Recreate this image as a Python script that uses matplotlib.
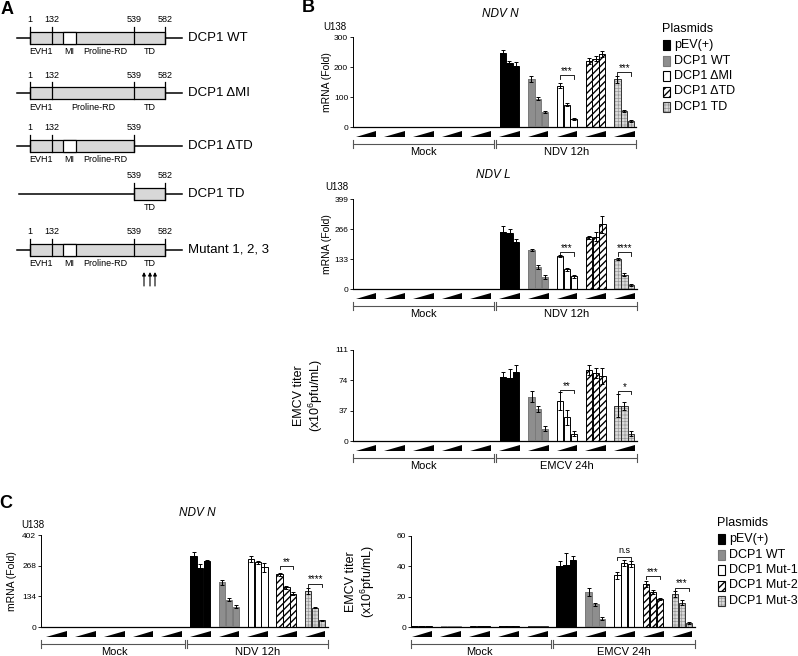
import numpy as np
import matplotlib.pyplot as plt
import matplotlib.patches as patches
import matplotlib.lines as mlines
import matplotlib.transforms as transforms

plt.rcParams['font.family'] = ['Liberation Sans', 'DejaVu Sans']
plt.rcParams['mathtext.default'] = 'regular'

W_PX, H_PX = 798, 656

# ---------------- data ----------------
b_plasmids = ['pEV(+)', 'DCP1 WT', 'DCP1 \u0394MI', 'DCP1 \u0394TD', 'DCP1 TD']
c_plasmids = ['pEV(+)', 'DCP1 WT', 'DCP1 Mut-1', 'DCP1 Mut-2', 'DCP1 Mut-3']

# rows = plasmid, cols = increasing dose
b_ndvn_mock = [[1.5, 1.5, 1.5], [1.5, 1.5, 1.5], [1.5, 1.5, 1.5], [1.5, 1.5, 1.5], [1.5, 1.5, 1.5]]
b_ndvn = [[248, 214, 204], [159, 94, 49], [138, 75, 27], [221, 227, 243], [159, 53, 20]]
b_ndvn_err = [[8, 6, 12], [10, 5, 3], [8, 6, 2], [10, 8, 10], [12, 3, 2]]
b_ndvn_sig = [(2, '***', 172), (4, '***', 182)]

b_ndvl_mock = [[2, 2, 2], [2, 2, 2], [2, 2, 2], [2, 2, 2], [2, 2, 2]]
b_ndvl = [[251, 247, 210], [173, 97, 54], [145, 88, 56], [229, 232, 286], [133, 64, 18]]
b_ndvl_err = [[28, 20, 12], [6, 10, 8], [4, 6, 6], [8, 20, 37], [4, 8, 3]]
b_ndvl_sig = [(2, '***', 162), (4, '****', 162)]

b_emcv_mock = [[0.6, 0.6, 0.6], [0.6, 0.6, 0.6], [0.6, 0.6, 0.6], [0.6, 0.6, 0.6], [0.6, 0.6, 0.6]]
b_emcv = [[77.6, 76.4, 84], [54, 39, 15], [48.6, 29, 8.6], [87, 83, 79], [43, 43, 9]]
b_emcv_err = [[7, 11, 9], [7, 4, 3], [11, 9, 3], [6, 6, 10], [14, 5, 3]]
b_emcv_sig = [(2, '**', 62), (4, '*', 61)]

c_ndvn_mock = [[1.5, 1.5, 1.5], [1.5, 1.5, 1.5], [1.5, 1.5, 1.5], [1.5, 1.5, 1.5], [1.5, 1.5, 1.5]]
c_ndvn = [[310, 256, 289], [195, 120, 88], [297, 282, 260], [230, 173, 146], [158, 85, 29]]
c_ndvn_err = [[17, 19, 4], [10, 6, 7], [12, 8, 21], [8, 8, 6], [12, 3, 3]]
c_ndvn_sig = [(3, '**', 267), (4, '****', 190)]

c_emcv_mock = [[0.6, 0.6, 0.6], [0.6, 0.6, 0.6], [0.6, 0.6, 0.6], [0.6, 0.6, 0.6], [0.6, 0.6, 0.6]]
c_emcv = [[40.5, 40.7, 44], [23, 15, 5.5], [34, 42, 41.5], [28.5, 23, 18.5], [22, 16, 2.5]]
c_emcv_err = [[3, 8, 2.5], [2.5, 1, 0.8], [2.5, 2, 2], [2, 1.2, 0.8], [2, 1.5, 0.5]]
c_emcv_sig = [(2, 'n.s', 46), (3, '***', 33.5), (4, '***', 26)]

# panel A constructs
constructs = ['DCP1 WT', 'DCP1 \u0394MI', 'DCP1 \u0394TD', 'DCP1 TD', 'Mutant 1, 2, 3']
construct_marks = [[1, 132, 539, 582], [1, 132, 539, 582], [1, 132, 539], [539, 582], [1, 132, 539, 582]]
construct_domains = [['EVH1', 'MI', 'Proline-RD', 'TD'], ['EVH1', 'Proline-RD', 'TD'],
                     ['EVH1', 'MI', 'Proline-RD'], ['TD'], ['EVH1', 'MI', 'Proline-RD', 'TD']]

# ---------------- styles ----------------
styles = [
    dict(fc='black', ec='black', hatch=None, hc=None, hlw=1.0),
    dict(fc='#8e8e8e', ec='#7a7a7a', hatch=None, hc=None, hlw=1.0),
    dict(fc='white', ec='black', hatch=None, hc=None, hlw=1.0),
    dict(fc='white', ec='black', hatch='/////', hc='black', hlw=1.0),
    dict(fc='#dadada', ec='#333333', hatch='+++++', hc='#999999', hlw=0.5),
]
BAR_W = 0.22
OFFS = [-0.235, 0.0, 0.235]

fig = plt.figure(figsize=(7.98, 6.56), dpi=100)
ov = fig.add_axes([0, 0, 1, 1])
ov.set_xlim(0, W_PX)
ov.set_ylim(H_PX, 0)
ov.axis('off')


def px_axes(l, t, r, b):
    return fig.add_axes([l / W_PX, 1 - b / H_PX, (r - l) / W_PX, (b - t) / H_PX])


def draw_panel(ax, mock, vals, errs, sigs, ymax, yticks, xlim, infection, ylabel, ylab_x, ylab_fs):
    for g in range(10):
        p = g % 5
        st = styles[p]
        if g < 5:
            v, e = mock[p], None
        else:
            v, e = vals[p], errs[p]
        xs = [g + o for o in OFFS]
        with plt.rc_context({'hatch.linewidth': st['hlw']}):
            ax.bar(xs, v, BAR_W, color=st['fc'], edgecolor=st['hc'] or st['fc'],
                   hatch=st['hatch'], linewidth=0, zorder=2)
        ax.bar(xs, v, BAR_W, fill=False, edgecolor=st['ec'], linewidth=0.7, zorder=3)
        if e is not None:
            ax.errorbar(xs, v, yerr=e, fmt='none', ecolor='black', elinewidth=0.7,
                        capsize=1.6, capthick=0.7, zorder=4)
    # significance brackets
    tick = ymax * 0.035
    for p, lab, y in sigs:
        g = 5 + p
        x0, x1 = g + OFFS[0], g + OFFS[2]
        ax.plot([x0, x0, x1, x1], [y - tick, y, y, y - tick], color='black', lw=0.6, zorder=5)
        if lab == 'n.s':
            ax.text(g, y + ymax * 0.03, lab, ha='center', va='bottom', fontsize=6.5)
        else:
            ax.text(g, y - ymax * 0.01, lab, ha='center', va='bottom', fontsize=7)

    ax.set_xlim(*xlim)
    ax.set_ylim(0, ymax)
    ax.set_yticks(yticks)
    ax.set_xticks([])
    ax.tick_params(axis='y', length=2.5, width=0.6, labelsize=6, pad=1)
    for s in ['top', 'right']:
        ax.spines[s].set_visible(False)
    ax.spines['left'].set_linewidth(0.7)
    ax.spines['bottom'].set_linewidth(0.9)
    ax.set_ylabel(ylabel, fontsize=ylab_fs, linespacing=1.1)
    ax.yaxis.set_label_coords(ylab_x, 0.5)

    # dose wedges, condition bracket and labels under the axis
    trans = transforms.blended_transform_factory(ax.transData, ax.transAxes)
    hp = ax.bbox.height

    def fy(px):
        return -px / hp

    for g in range(10):
        tri = patches.Polygon([(g - 0.36, fy(10)), (g + 0.36, fy(10)), (g + 0.36, fy(4))],
                              closed=True, transform=trans, clip_on=False,
                              facecolor='black', edgecolor='none')
        ax.add_artist(tri)
    yb = fy(17)
    lc = '#555555'
    segs = [(xlim[0], 4.46), (4.54, xlim[1])]
    for a, b in segs:
        ax.add_artist(mlines.Line2D([a, b], [yb, yb], transform=trans, clip_on=False, color=lc, lw=0.8))
    for xv in [xlim[0], 4.46, 4.54, xlim[1]]:
        ax.add_artist(mlines.Line2D([xv, xv], [fy(13), fy(21)], transform=trans, clip_on=False,
                                    color=lc, lw=0.8))
    ax.text(2, fy(25), 'Mock', transform=trans, ha='center', va='center', fontsize=8)
    ax.text(7, fy(25), infection, transform=trans, ha='center', va='center', fontsize=8)


ax_b1 = px_axes(353, 37, 636, 127)
draw_panel(ax_b1, b_ndvn_mock, b_ndvn, b_ndvn_err, b_ndvn_sig, 300, [0, 100, 200, 300],
           (-0.453, 9.41), 'NDV 12h', 'mRNA (Fold)', -0.075, 7.5)
ax_b2 = px_axes(353, 199, 637, 289)
draw_panel(ax_b2, b_ndvl_mock, b_ndvl, b_ndvl_err, b_ndvl_sig, 399, [0, 133, 266, 399],
           (-0.453, 9.44), 'NDV 12h', 'mRNA (Fold)', -0.075, 7.5)
ax_b3 = px_axes(353, 350, 637, 441)
draw_panel(ax_b3, b_emcv_mock, b_emcv, b_emcv_err, b_emcv_sig, 111, [0, 37, 74, 111],
           (-0.453, 9.44), 'EMCV 24h', 'EMCV titer\n(x10$^6$pfu/mL)', -0.10, 9)
ax_c1 = px_axes(41, 535, 328, 627)
draw_panel(ax_c1, c_ndvn_mock, c_ndvn, c_ndvn_err, c_ndvn_sig, 402, [0, 134, 268, 402],
           (-0.55, 9.45), 'NDV 12h', 'mRNA (Fold)', -0.085, 7.5)
ax_c2 = px_axes(411, 536, 695, 627)
draw_panel(ax_c2, c_emcv_mock, c_emcv, c_emcv_err, c_emcv_sig, 60, [0, 20, 40, 60],
           (-0.38, 9.45), 'EMCV 24h', 'EMCV titer\n(x10$^6$pfu/mL)', -0.12, 9)

# titles / cell line / panel letters
ov.text(500, 14, 'NDV N', style='italic', ha='center', va='center', fontsize=8.5)
ov.text(493, 175, 'NDV L', style='italic', ha='center', va='center', fontsize=8.5)
ov.text(197, 513, 'NDV N', style='italic', ha='center', va='center', fontsize=8.5)
for x, y in [(335, 27), (337, 187), (33, 525)]:
    ov.text(x, y, 'U138', ha='center', va='center', fontsize=7)
for lab, x, y in [('A', 7, 9), ('B', 308, 8), ('C', 6, 503)]:
    ov.text(x, y, lab, ha='center', va='center', fontsize=13, fontweight='bold')


# legends
def legend(x, y0, names):
    ov.text(x - 1, y0, 'Plasmids', ha='left', va='center', fontsize=9)
    for i, name in enumerate(names):
        yc = y0 + 16 + 15.5 * i
        st = styles[i]
        with plt.rc_context({'hatch.linewidth': st['hlw']}):
            ov.add_patch(patches.Rectangle((x, yc - 5), 6.5, 10, facecolor=st['fc'],
                                           edgecolor=st['hc'] or st['fc'], hatch=st['hatch'], lw=0))
        ov.add_patch(patches.Rectangle((x, yc - 5), 6.5, 10, fill=False, edgecolor=st['ec'], lw=0.8))
        ov.text(x + 11, yc, name, ha='left', va='center', fontsize=9)


legend(663, 29, b_plasmids)
legend(718, 523, c_plasmids)

# panel A: schematic domain maps (not to scale)
mark_x = {1: 30, 132: 51.7, 539: 134, 582: 165}
mi_x = (62.7, 75.7)
row_y = [38, 93, 146, 194, 250]
line_x = [(17, 182), (17, 182), (17, 182), (19, 182), (17, 182)]
for name, marks, doms, yc, (lx0, lx1) in zip(constructs, construct_marks, construct_domains, row_y, line_x):
    ov.plot([lx0, lx1], [yc, yc], color='black', lw=1.1, zorder=1)
    bx0, bx1 = mark_x[marks[0]], mark_x[marks[-1]]
    ov.add_patch(patches.Rectangle((bx0, yc - 6), bx1 - bx0, 12, facecolor='#d8d8d8',
                                   edgecolor='black', lw=0.9, zorder=2))
    if 'MI' in doms:
        ov.add_patch(patches.Rectangle((mi_x[0], yc - 6), mi_x[1] - mi_x[0], 12, facecolor='white',
                                       edgecolor='black', lw=0.9, zorder=3))
    for m in marks:
        xm = mark_x[m]
        ov.plot([xm, xm], [yc - 11, yc + 6], color='black', lw=0.9, zorder=4)
        ov.text(xm, yc - 18, str(m), ha='center', va='center', fontsize=6.5)
    # domain label centres
    bounds = {'EVH1': (mark_x[1], mark_x[132]), 'MI': mi_x, 'TD': (mark_x[539], mark_x[582]),
              'Proline-RD': ((mi_x[1] if 'MI' in doms else mark_x[132]), mark_x[539])}
    for d in doms:
        a, b = bounds[d]
        ov.text((a + b) / 2, yc + 14, d, ha='center', va='center', fontsize=6.5)
    ov.text(188, yc, name, ha='left', va='center', fontsize=9.5)

for xa in [144, 150, 155]:
    ov.annotate('', xy=(xa, 272), xytext=(xa, 286),
                arrowprops=dict(arrowstyle='-|>', lw=0.8, color='black', mutation_scale=5,
                                shrinkA=0, shrinkB=0))

fig.savefig('out.png', dpi=100)
